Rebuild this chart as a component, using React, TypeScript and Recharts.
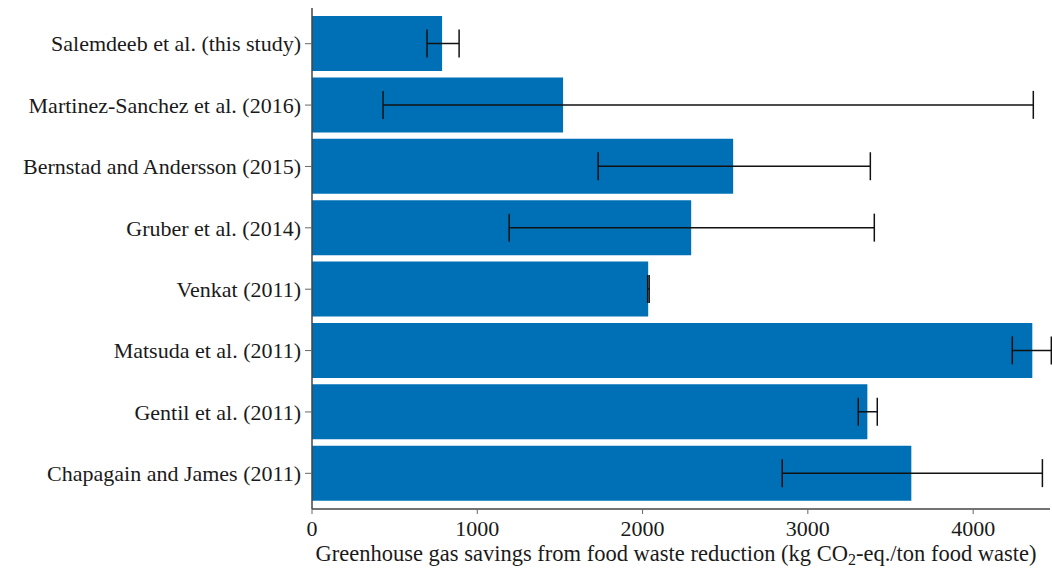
import React from 'react'
import {
    BarChart,
    Bar,
    XAxis,
    YAxis,
    ErrorBar,
    Label,
} from 'recharts'

// studies, top to bottom
const studies = [
    'Salemdeeb et al. (this study)',
    'Martinez-Sanchez et al. (2016)',
    'Bernstad and Andersson (2015)',
    'Gruber et al. (2014)',
    'Venkat (2011)',
    'Matsuda et al. (2011)',
    'Gentil et al. (2011)',
    'Chapagain and James (2011)',
]

// kg CO2-eq. per ton of food waste
const savings = [787, 1519, 2548, 2294, 2034, 4358, 3360, 3626]

// distance from the bar end to the low / high end of each range
const errLow = [91, 1089, 817, 1101, 3, 121, 55, 781]
const errHigh = [103, 2845, 830, 1108, 6, 115, 60, 793]

const xTicks = [0, 1000, 2000, 3000, 4000]

const data = studies.map((study, i) => ({
    study,
    savings: savings[i],
    err: [errLow[i], errHigh[i]],
}))

const FONT = '"Liberation Serif", "Times New Roman", serif'
const tickStyle = { fontSize: 22, fontFamily: FONT, fill: '#1a1a1a' }

// axis title with a subscript 2 in CO2
// eslint-disable-next-line @typescript-eslint/no-explicit-any
const AxisTitle = ({ viewBox }: any) => {
    const cx = viewBox.x + viewBox.width / 2 - 5
    const y = viewBox.y + 52
    return (
        <text x={cx} y={y} textAnchor="middle" fontFamily={FONT} fontSize={22.5} fill="#1a1a1a">
            <tspan>Greenhouse gas savings from food waste reduction (kg CO</tspan>
            <tspan fontSize={16} dy={4}>2</tspan>
            <tspan dy={-4}>-eq./ton food waste)</tspan>
        </text>
    )
}

export default function App() {
    return (
        <div style={{ position: 'absolute', left: 0, top: 0, background: '#fff' }}>
            <BarChart
                width={1052}
                height={571}
                data={data}
                layout="vertical"
                margin={{ top: 8, right: 2, bottom: 0, left: 0 }}
            >
                <XAxis
                    type="number"
                    domain={[0, 4465]}
                    ticks={xTicks}
                    allowDataOverflow
                    height={62}
                    tick={tickStyle}
                    tickSize={5}
                    tickMargin={6}
                    axisLine={{ stroke: '#444', strokeWidth: 1.5 }}
                    tickLine={{ stroke: '#666' }}
                >
                    <Label content={<AxisTitle />} />
                </XAxis>
                <YAxis
                    type="category"
                    dataKey="study"
                    width={312}
                    padding={{ top: 5, bottom: 5 }}
                    tick={tickStyle}
                    tickSize={7}
                    tickMargin={4}
                    axisLine={{ stroke: '#444', strokeWidth: 1.5 }}
                    tickLine={{ stroke: '#666' }}
                    interval={0}
                />
                <Bar dataKey="savings" fill="#0070b6" barSize={55} isAnimationActive={false}>
                    <ErrorBar
                        dataKey="err"
                        direction="x"
                        width={14}
                        stroke="#111"
                        strokeWidth={1.5}
                    />
                </Bar>
            </BarChart>
        </div>
    )
}
